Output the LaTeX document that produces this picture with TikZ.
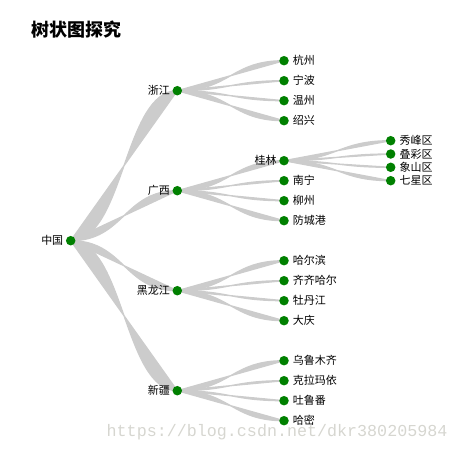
\documentclass[tikz,border=0pt]{standalone}
\usepackage{fontspec}
\setmainfont{Noto Sans CJK SC}
\setmonofont{Liberation Mono}
\usetikzlibrary{positioning,backgrounds}
\definecolor{linkgray}{RGB}{204,204,204}
\definecolor{dotgreen}{RGB}{0,128,0}
\definecolor{markgray}{RGB}{214,214,208}
\newcommand{\branch}[2]{\path[link] (#1.center) .. controls +(53.5,0) and +(-53.5,0) .. (#2.center) -- cycle;}

\begin{document}
\begin{tikzpicture}[x=1pt,y=-1pt,font=\fontsize{11}{13}\selectfont,
  dot/.style={circle,fill=dotgreen,inner sep=0pt,outer sep=0pt,minimum size=9.5pt},
  link/.style={fill=linkgray,draw=linkgray,line width=1.3pt},
  lbl/.style={inner sep=0pt}]
  \useasboundingbox (0,0) rectangle (458,450);
  \node[anchor=west,inner sep=0pt,font=\fontsize{18}{20}\selectfont\bfseries] (title) at (31,30) {树状图探究};
  % root and provinces
  \node[dot] (cn) at (70.7,240.7) {};
  \node[dot] (zj) at (177.3,90.7) {};
  \node[dot] (gx) at (177.3,190.7) {};
  \node[dot] (hlj) at (177.3,290.7) {};
  \node[dot] (xj) at (177.3,390.7) {};
  \node[lbl,left=2.5pt of cn] (cn-t) {中国};
  \node[lbl,left=2.5pt of zj] (zj-t) {浙江};
  \node[lbl,left=2.5pt of gx] (gx-t) {广西};
  \node[lbl,left=2.5pt of hlj] (hlj-t) {黑龙江};
  \node[lbl,left=2.5pt of xj] (xj-t) {新疆};
  % cities
  \node[dot] (hz) at (284,60.7) {};
  \node[dot] (nb) at (284,80.7) {};
  \node[dot] (wz) at (284,100.7) {};
  \node[dot] (sx) at (284,120.7) {};
  \node[dot] (gl) at (284,160.7) {};
  \node[dot] (nn) at (284,180.7) {};
  \node[dot] (lz) at (284,200.7) {};
  \node[dot] (fcg) at (284,220.7) {};
  \node[dot] (heb) at (284,260.7) {};
  \node[dot] (qqhe) at (284,280.7) {};
  \node[dot] (mdj) at (284,300.7) {};
  \node[dot] (dq) at (284,320.7) {};
  \node[dot] (wlmq) at (284,360.7) {};
  \node[dot] (klmy) at (284,380.7) {};
  \node[dot] (tlf) at (284,400.7) {};
  \node[dot] (hm) at (284,420.7) {};
  \node[lbl,right=4pt of hz] (hz-t) {杭州};
  \node[lbl,right=4pt of nb] (nb-t) {宁波};
  \node[lbl,right=4pt of wz] (wz-t) {温州};
  \node[lbl,right=4pt of sx] (sx-t) {绍兴};
  \node[lbl,left=2.5pt of gl] (gl-t) {桂林};
  \node[lbl,right=4pt of nn] (nn-t) {南宁};
  \node[lbl,right=4pt of lz] (lz-t) {柳州};
  \node[lbl,right=4pt of fcg] (fcg-t) {防城港};
  \node[lbl,right=4pt of heb] (heb-t) {哈尔滨};
  \node[lbl,right=4pt of qqhe] (qqhe-t) {齐齐哈尔};
  \node[lbl,right=4pt of mdj] (mdj-t) {牡丹江};
  \node[lbl,right=4pt of dq] (dq-t) {大庆};
  \node[lbl,right=4pt of wlmq] (wlmq-t) {乌鲁木齐};
  \node[lbl,right=4pt of klmy] (klmy-t) {克拉玛依};
  \node[lbl,right=4pt of tlf] (tlf-t) {吐鲁番};
  \node[lbl,right=4pt of hm] (hm-t) {哈密};
  % districts of guilin
  \node[dot] (xf) at (390.7,140.7) {};
  \node[dot] (dc) at (390.7,154) {};
  \node[dot] (xs) at (390.7,167.3) {};
  \node[dot] (qx) at (390.7,180.7) {};
  \node[lbl,right=4pt of xf] (xf-t) {秀峰区};
  \node[lbl,right=4pt of dc] (dc-t) {叠彩区};
  \node[lbl,right=4pt of xs] (xs-t) {象山区};
  \node[lbl,right=4pt of qx] (qx-t) {七星区};
  \begin{scope}[on background layer]
    \branch{cn}{zj} \branch{cn}{gx} \branch{cn}{hlj} \branch{cn}{xj}
    \branch{zj}{hz} \branch{zj}{nb} \branch{zj}{wz} \branch{zj}{sx}
    \branch{gx}{gl} \branch{gx}{nn} \branch{gx}{lz} \branch{gx}{fcg}
    \branch{hlj}{heb} \branch{hlj}{qqhe} \branch{hlj}{mdj} \branch{hlj}{dq}
    \branch{xj}{wlmq} \branch{xj}{klmy} \branch{xj}{tlf} \branch{xj}{hm}
    \branch{gl}{xf} \branch{gl}{dc} \branch{gl}{xs} \branch{gl}{qx}
  \end{scope}
  \node[anchor=base west,inner sep=0pt,text=markgray,
    font=\fontsize{16.7}{18}\selectfont\ttfamily] (mark) at (106.5,436) {https://blog.csdn.net/dkr380205984};
\end{tikzpicture}
\end{document}
